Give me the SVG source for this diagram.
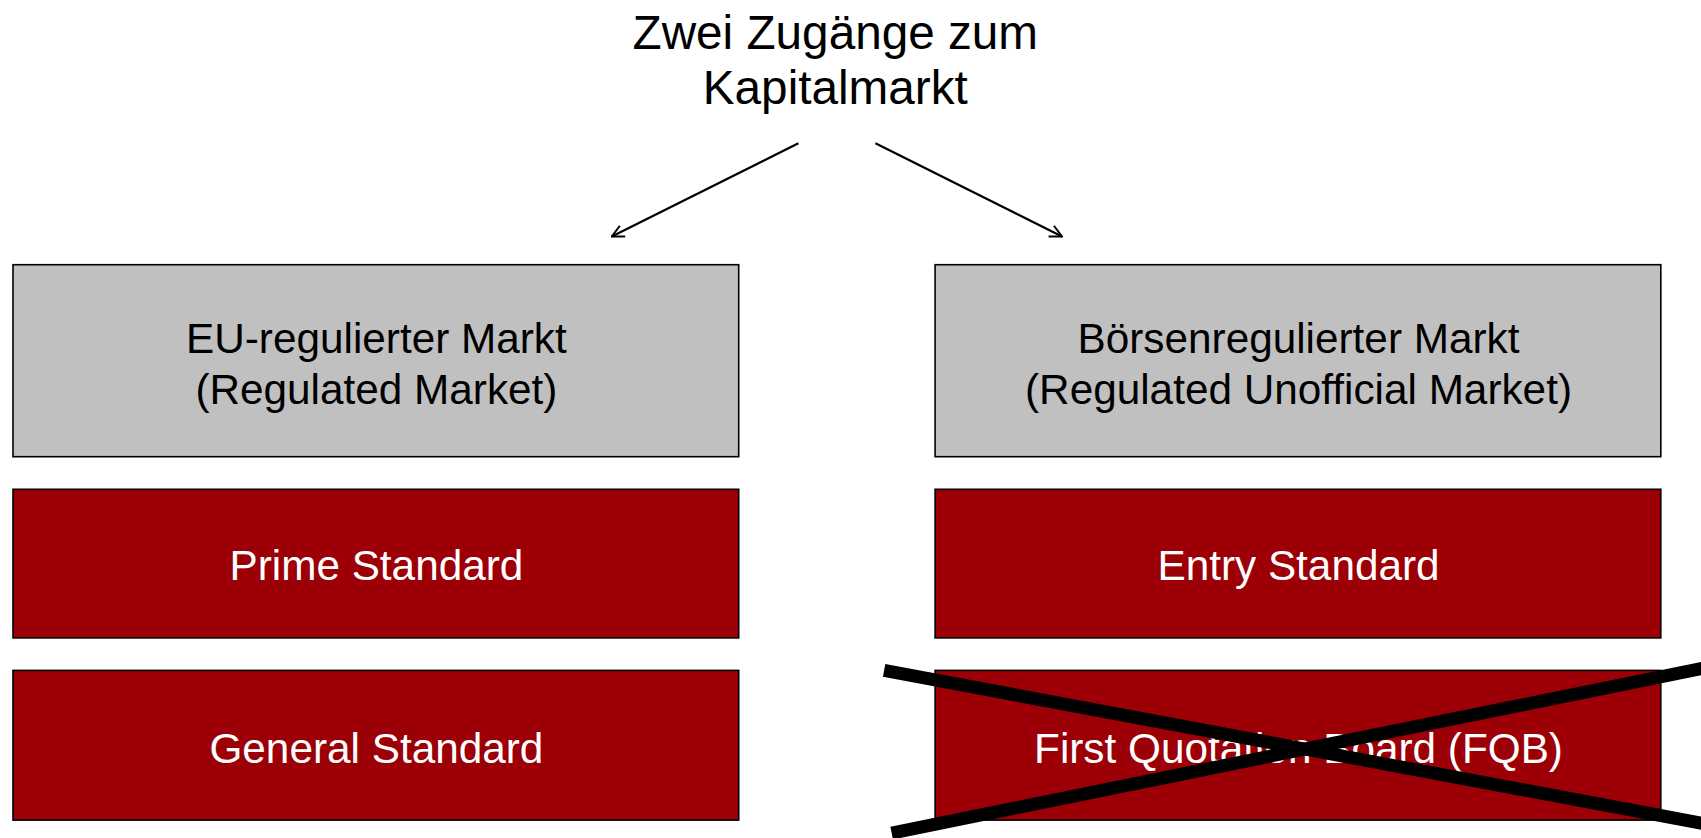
<svg xmlns="http://www.w3.org/2000/svg" width="1701" height="838" viewBox="0 0 1701 838">
<defs>
<marker id="arr" markerWidth="14" markerHeight="14" refX="13" refY="7" orient="auto" markerUnits="userSpaceOnUse">
<path d="M1,1 L13,7 L1,13" fill="none" stroke="#000" stroke-width="2"/>
</marker>
<style>
.t{font-family:"Liberation Sans",Arial,sans-serif;text-anchor:middle}
.gray{fill:#C0C0C0;stroke:#000;stroke-width:1.6}
.red{fill:#9C0006;stroke:#000;stroke-width:1.6}
.dark{fill:#000;font-size:42.3px}
.light{fill:#fff;font-size:42.3px}
.conn{stroke:#000;stroke-width:2.2;fill:none}
.cross{stroke:#000;stroke-width:13}
</style>
</defs>
<rect width="1701" height="838" fill="#fff"/>
<g id="title">
<text class="t" x="835.3" y="48.8" font-size="47.7">Zwei Zugänge zum</text>
<text class="t" x="835.3" y="104.1" font-size="47.7">Kapitalmarkt</text>
</g>
<g id="connectors">
<line class="conn" x1="798.4" y1="143.2" x2="611.8" y2="236.5" marker-end="url(#arr)"/>
<line class="conn" x1="875.4" y1="143.2" x2="1062" y2="236.5" marker-end="url(#arr)"/>
</g>
<g id="eu-markt">
<rect class="gray" x="13" y="264.7" width="725.7" height="192"/>
<text class="t dark" x="376.4" y="352.6">EU-regulierter Markt</text>
<text class="t dark" x="376.4" y="403.6">(Regulated Market)</text>
</g>
<g id="boersen-markt">
<rect class="gray" x="935.1" y="264.7" width="725.7" height="192"/>
<text class="t dark" x="1298.5" y="352.6">Börsenregulierter Markt</text>
<text class="t dark" x="1298.5" y="403.6">(Regulated Unofficial Market)</text>
</g>
<g id="prime">
<rect class="red" x="13" y="489.3" width="725.7" height="148.6"/>
<text class="t light" x="376.4" y="580.4">Prime Standard</text>
</g>
<g id="entry">
<rect class="red" x="935.1" y="489.3" width="725.7" height="148.6"/>
<text class="t light" x="1298.5" y="580.4">Entry Standard</text>
</g>
<g id="general">
<rect class="red" x="13" y="670.4" width="725.7" height="149.7"/>
<text class="t light" x="376.4" y="762.6">General Standard</text>
</g>
<g id="fqb">
<rect class="red" x="935.1" y="670.4" width="725.7" height="149.7"/>
<text class="t light" x="1298.5" y="762.6">First Quotation Board (FQB)</text>
</g>
<g id="cross">
<line class="cross" x1="884.1" y1="670.4" x2="1703" y2="823.4"/>
<line class="cross" x1="891.7" y1="833.1" x2="1703" y2="668.2"/>
</g>
</svg>
